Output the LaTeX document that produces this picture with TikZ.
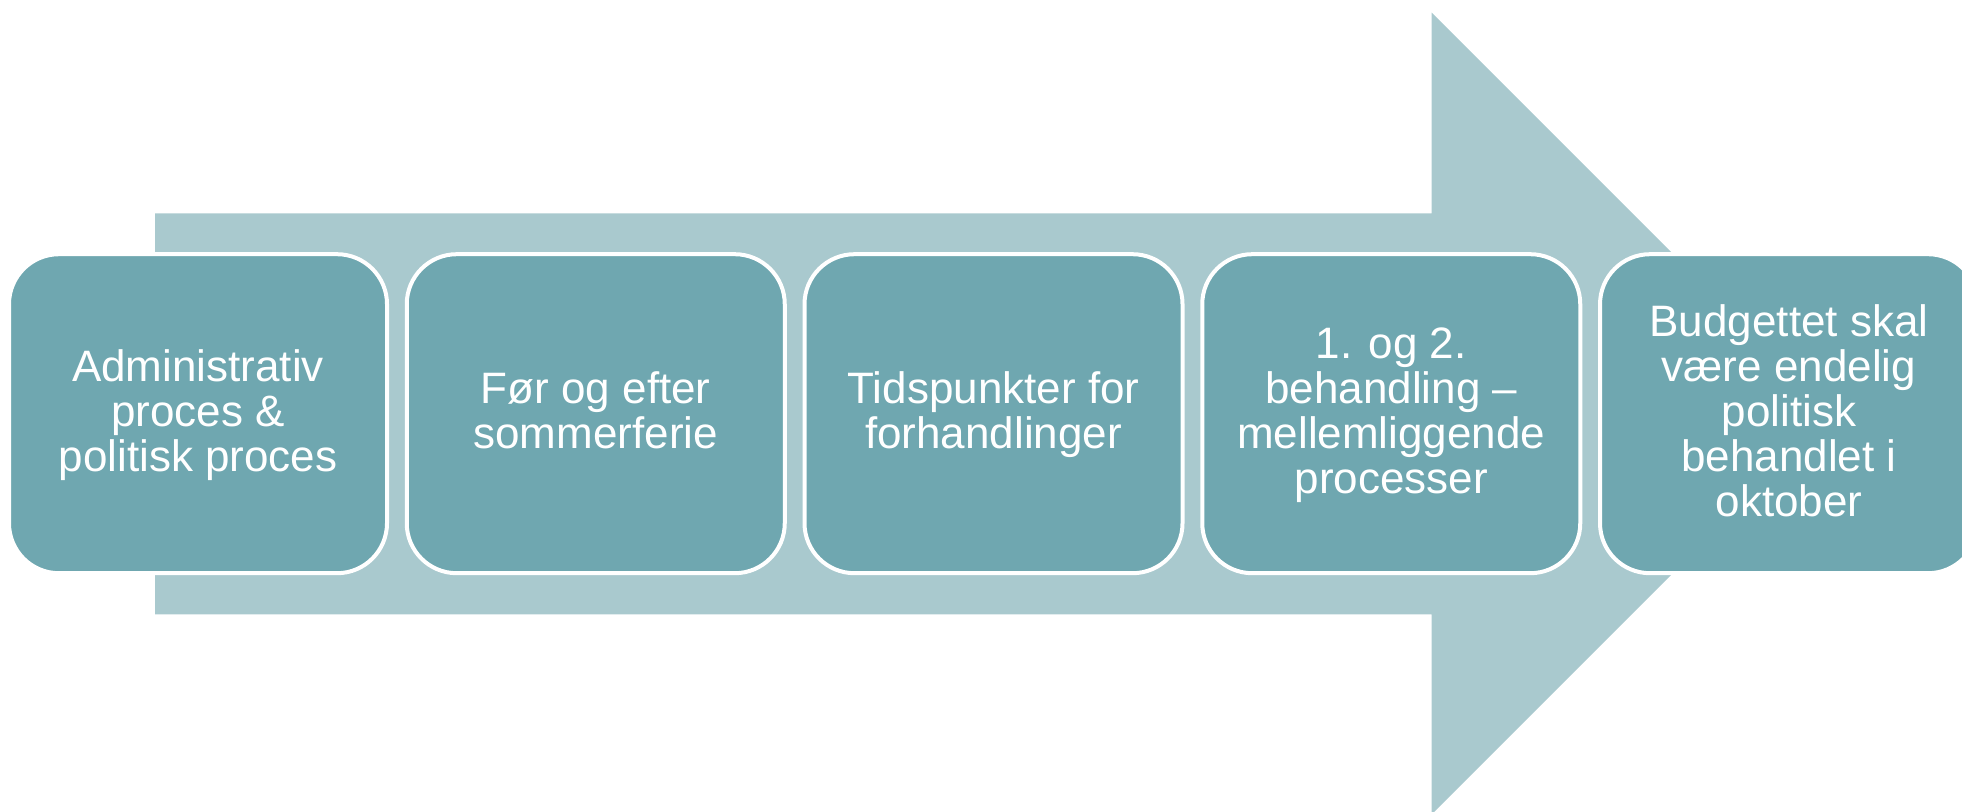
\documentclass[tikz,border=0pt]{standalone}
\usepackage{fontspec}
\setmainfont{Liberation Sans}
\definecolor{arrowc}{HTML}{A9C9CE}
\definecolor{boxc}{HTML}{6FA7B0}
\newcommand{\ls}{\rule[-5pt]{0pt}{22.5pt}}
\begin{document}
\begin{tikzpicture}[x=0.5pt,y=-0.5pt,
  stepbox/.style={draw=white, line width=2pt, fill=boxc, rounded corners=25pt,
    minimum width=189pt, minimum height=159.5pt, inner sep=0pt, align=center,
    text=white, font=\fontsize{22pt}{22.5pt}\selectfont}]
\clip (0,0) rectangle (1962,812);
\fill[arrowc] (155,213.3) -- (1431.7,213.3) -- (1431.7,12.7) -- (1832.7,413.5)
  -- (1431.7,814.3) -- (1431.7,614.3) -- (155,614.3) -- cycle;
\node[stepbox] (b1) at (198,413.7) {\ls Administrativ\\\ls proces \&\\\ls politisk proces};
\node[stepbox] (b2) at (595.75,413.7) {\ls Før og efter\\\ls sommerferie};
\node[stepbox] (b3) at (993.5,413.7) {\ls Tidspunkter for\\\ls forhandlinger};
\node[stepbox] (b4) at (1391.25,413.7) {\ls 1. og 2.\\\ls behandling –\\\ls mellemliggende\\\ls processer};
\node[stepbox] (b5) at (1789,413.7) {\ls Budgettet skal\\\ls være endelig\\\ls politisk\\\ls behandlet i\\\ls oktober};
\end{tikzpicture}
\end{document}
